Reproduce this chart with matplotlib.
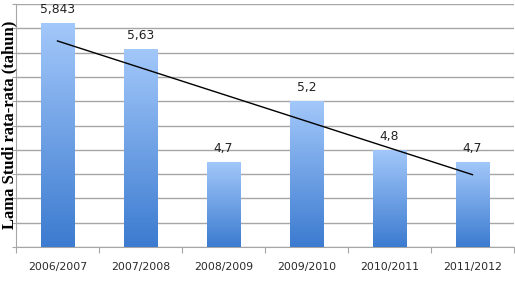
import numpy as np
import matplotlib
matplotlib.use("Agg")
from matplotlib import pyplot as plt
from matplotlib.colors import LinearSegmentedColormap

years = ['2006/2007', '2007/2008', '2008/2009', '2009/2010', '2010/2011', '2011/2012']
lama_studi = [5.843, 5.63, 4.7, 5.2, 4.8, 4.7]
labels = ['5,843', '5,63', '4,7', '5,2', '4,8', '4,7']

y_min, y_max = 4.0, 6.0

fig = plt.figure(figsize=(5.15, 2.89), dpi=100)
ax = fig.add_axes([16/515, 1 - 247/289, 498/515, 243/289])

x = np.arange(len(years))
bars = ax.bar(x, np.array(lama_studi) - y_min, bottom=y_min, width=0.4,
              color='none', edgecolor='none', zorder=3)

# gradient fill, light at the top, darker at the bottom
cmap = LinearSegmentedColormap.from_list('blu', ['#3c7bd0', '#a3c8fa'])
grad = np.linspace(0, 1, 256).reshape(-1, 1)
for b in bars:
    x0, y0 = b.get_x(), b.get_y()
    w, h = b.get_width(), b.get_height()
    im = ax.imshow(grad, cmap=cmap, origin='lower', aspect='auto',
                   extent=[x0, x0 + w, y0, y0 + h], zorder=3)
    im.set_clip_path(b)

for xi, v, s in zip(x, lama_studi, labels):
    ax.annotate(s, (xi, v), xytext=(0, 5), textcoords='offset points',
                ha='center', va='bottom', fontsize=8.8, color='#222222',
                family='DejaVu Sans', zorder=5)

# linear trend line
k, c = np.polyfit(x, lama_studi, 1)
ax.plot([x[0], x[-1]], [c, c + k * x[-1]], color='black', lw=1, zorder=4)

ax.set_xlim(-0.5, len(years) - 0.5)
ax.set_ylim(y_min, y_max)
ax.set_yticks(np.arange(4.0, 6.01, 0.2))
ax.set_yticklabels([])
ax.yaxis.grid(True, color='#a6a6a6', lw=1)
ax.set_axisbelow(True)

ax.set_xticks(np.arange(-0.5, len(years), 1.0))
ax.set_xticklabels([])
ax.set_xticks(x, minor=True)
ax.set_xticklabels(years, minor=True, fontsize=7.8, color='#2a2a2a',
                   family='DejaVu Sans')
ax.tick_params(axis='x', which='major', length=4, color='#a6a6a6')
ax.tick_params(axis='x', which='minor', length=0, pad=11)
ax.tick_params(axis='y', length=3, color='#a6a6a6')

for sp in ['top', 'right']:
    ax.spines[sp].set_visible(False)
for sp in ['left', 'bottom']:
    ax.spines[sp].set_color('#a6a6a6')

fig.text(9.5/515, 1 - 125/289, 'Lama Studi rata-rata (tahun)',
         rotation=90, ha='center', va='center', fontsize=12,
         fontweight='bold', family='Liberation Serif')

fig.savefig('out.png', dpi=100)
